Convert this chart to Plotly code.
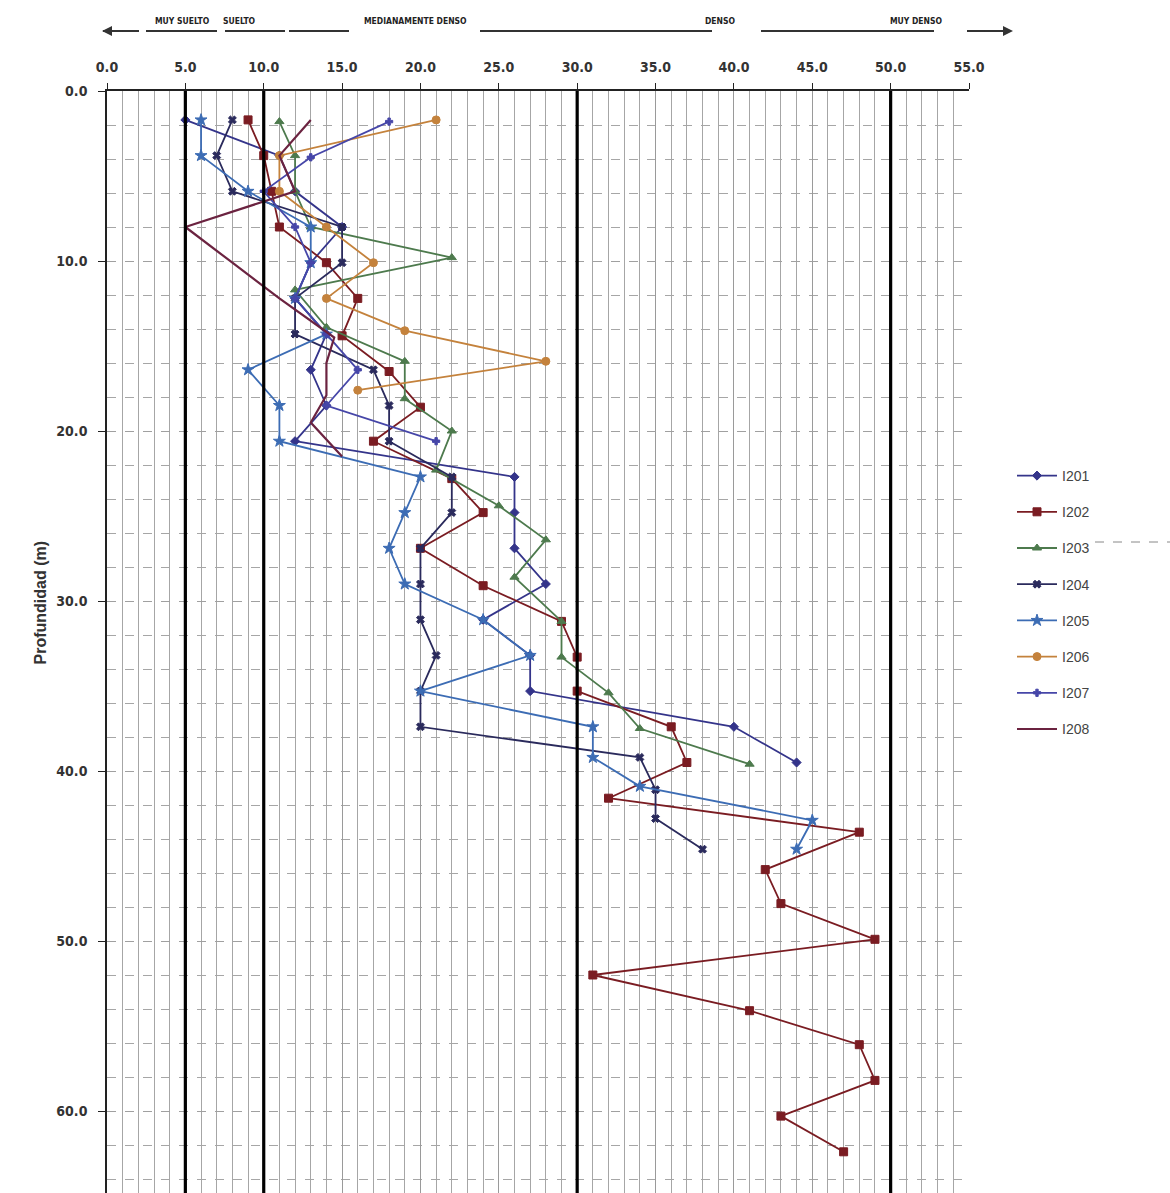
import plotly.graph_objects as go

# ---------------- data ----------------
D201 = [1.7, 3.8, 5.9, 8.0, 10.1, 12.2, 14.3, 16.4, 18.5, 20.6, 22.7, 24.8, 26.9, 29.0, 31.1, 33.2, 35.3, 37.4, 39.5]
N201 = [5, 11, 12, 15, 13, 12, 14, 13, 14, 12, 26, 26, 26, 28, 24, 27, 27, 40, 44]

D202 = [1.7, 3.8, 5.9, 8.0, 10.1, 12.2, 14.4, 16.5, 18.6, 20.6, 22.8, 24.8, 26.9, 29.1, 31.2, 33.3, 35.3, 37.4, 39.5,
        41.6, 43.6, 45.8, 47.8, 49.9, 52.0, 54.1, 56.1, 58.2, 60.3, 62.4]
N202 = [9, 10, 10.5, 11, 14, 16, 15, 18, 20, 17, 22, 24, 20, 24, 29, 30, 30, 36, 37,
        32, 48, 42, 43, 49, 31, 41, 48, 49, 43, 47]

D203 = [1.8, 3.8, 5.9, 8.0, 9.8, 11.7, 13.9, 15.9, 18.1, 20.0, 22.3, 24.4, 26.4, 28.6, 31.2, 33.3, 35.4, 37.5, 39.6]
N203 = [11, 12, 12, 13, 22, 12, 14, 19, 19, 22, 21, 25, 28, 26, 29, 29, 32, 34, 41]

D204 = [1.7, 3.8, 5.9, 8.0, 10.1, 12.2, 14.3, 16.4, 18.5, 20.6, 22.7, 24.8, 26.9, 29.0, 31.1, 33.2, 35.3, 37.4,
        39.2, 41.1, 42.8, 44.6]
N204 = [8, 7, 8, 15, 15, 12, 12, 17, 18, 18, 22, 22, 20, 20, 20, 21, 20, 20, 34, 35, 35, 38]

D205 = [1.7, 3.8, 5.9, 8.0, 10.1, 12.2, 14.3, 16.4, 18.5, 20.6, 22.7, 24.8, 26.9, 29.0, 31.1, 33.2, 35.3, 37.4,
        39.2, 40.9, 42.9, 44.6]
N205 = [6, 6, 9, 13, 13, 12, 14, 9, 11, 11, 20, 19, 18, 19, 24, 27, 20, 31, 31, 34, 45, 44]

D206 = [1.7, 3.8, 5.9, 8.0, 10.1, 12.2, 14.1, 15.9, 17.6]
N206 = [21, 11, 11, 14, 17, 14, 19, 28, 16]

D207 = [1.8, 3.9, 5.9, 8.0, 10.1, 12.2, 14.3, 16.4, 18.5, 20.6]
N207 = [18, 13, 10, 12, 13, 12, 14, 16, 14, 21]

D208 = [1.7, 3.8, 5.9, 8.0, 10.1, 12.2, 14.5, 16.0, 17.9, 19.5, 21.5]
N208 = [13, 11, 12, 5, 8, 11, 14.5, 14, 14, 13, 15]

SERIES = ["I201", "I202", "I203", "I204", "I205", "I206", "I207", "I208"]
X_TICKS = [0, 5, 10, 15, 20, 25, 30, 35, 40, 45, 50, 55]
Y_TICKS = [0, 10, 20, 30, 40, 50, 60]
THRESHOLDS = [5, 10, 30, 50]
CATEGORIES = ["MUY SUELTO", "SUELTO", "MEDIANAMENTE DENSO", "DENSO", "MUY DENSO"]

# ---------------- styling ----------------
styles = [
    dict(color="#34348a", symbol="diamond", size=7),
    dict(color="#7a1c22", symbol="square", size=8),
    dict(color="#4d7a4d", symbol="triangle-up", size=8),
    dict(color="#2a2a5c", symbol="x", size=7),
    dict(color="#3c6cb4", symbol="star", size=9),
    dict(color="#c4823c", symbol="circle", size=8),
    dict(color="#4646a8", symbol="cross", size=6),
    dict(color="#6b2340", symbol=None, size=0),
]
data = [(N201, D201), (N202, D202), (N203, D203), (N204, D204),
        (N205, D205), (N206, D206), (N207, D207), (N208, D208)]

fig = go.Figure()
for name, (xs, ys), st in zip(SERIES, data, styles):
    if st["symbol"] is None:
        fig.add_trace(go.Scatter(x=xs, y=ys, mode="lines", name=name, legendgroup=name,
                                 line=dict(color=st["color"], width=2.2)))
    else:
        fig.add_trace(go.Scatter(x=xs, y=ys, mode="lines+markers", name=name, legendgroup=name,
                                 line=dict(color=st["color"], width=1.8),
                                 marker=dict(symbol=st["symbol"], size=st["size"], color=st["color"],
                                             line=dict(color=st["color"], width=1))))

L, R, T, B = 107, 201, 91, 0
W, H = 1170, 1193
PW, PH = W - L - R, H - T - B


def px(xp):
    return (xp - L) / PW


def py(yp):
    return (H - B - yp) / PH


shapes = []
for v in THRESHOLDS:
    shapes.append(dict(type="line", xref="x", yref="paper", x0=v, x1=v, y0=0, y1=1,
                       line=dict(color="black", width=3.2), layer="above"))

# arrows row above the chart
segs = [(103, 139), (146, 217), (225, 285), (289, 349), (480, 712), (761, 934), (967, 1010)]
for a, b in segs:
    shapes.append(dict(type="line", xref="paper", yref="paper", x0=px(a), x1=px(b),
                       y0=py(31), y1=py(31), line=dict(color="#333", width=2)))
# small dashed line near legend
shapes.append(dict(type="line", xref="paper", yref="paper", x0=px(1095), x1=px(1170),
                   y0=py(542), y1=py(542), line=dict(color="#888", width=1, dash="dash")))

annotations = []
cat_x = [153, 221, 415, 737, 945]
for txt, cx in zip(CATEGORIES, cat_x):
    annotations.append(dict(text=txt, x=px(cx), y=py(14), xref="paper", yref="paper", showarrow=False,
                            font=dict(family="DejaVu Sans Condensed, Liberation Sans Narrow, sans-serif", size=8.5,
                                      color="#222", weight="bold")))
annotations.append(dict(x=px(102), y=py(31), xref="paper", yref="paper", ax=22, ay=0, text="",
                        showarrow=True, arrowhead=2, arrowsize=1, arrowwidth=2, arrowcolor="#333"))
annotations.append(dict(x=px(1013), y=py(31), xref="paper", yref="paper", ax=-30, ay=0, text="",
                        showarrow=True, arrowhead=2, arrowsize=1, arrowwidth=2, arrowcolor="#333"))
annotations.append(dict(text="Profundidad (m)", x=px(29), y=py(603), xref="paper", yref="paper",
                        showarrow=False, textangle=-90,
                        font=dict(family="Liberation Sans, Arial, sans-serif", size=16, color="#333",
                                  weight="bold")))

tickfont = dict(family="DejaVu Sans Condensed, Liberation Sans Narrow, sans-serif", size=14, color="#333",
                weight="bold")

fig.update_layout(
    width=W, height=H,
    margin=dict(l=L, r=R, t=T, b=B),
    paper_bgcolor="white", plot_bgcolor="white",
    shapes=shapes, annotations=annotations,
    legend=dict(x=px(1012), y=py(460), xanchor="left", yanchor="top", tracegroupgap=15,
                font=dict(family="Liberation Sans Narrow, Arial Narrow, sans-serif", size=14, color="#444"),
                bgcolor="rgba(0,0,0,0)", itemwidth=40),
    xaxis=dict(side="top", range=[0, 55], tickvals=X_TICKS, tickformat=".1f",
               showgrid=True, gridcolor="#9a9a9a", gridwidth=1.2,
               minor=dict(dtick=1, showgrid=True, gridcolor="#a6a6a6", gridwidth=1.2),
               ticks="outside", ticklen=6, tickcolor="#222", tickwidth=1.3,
               ticklabelstandoff=6,
               showline=True, linecolor="#222", linewidth=1.6, zeroline=False, tickfont=tickfont),
    yaxis=dict(range=[(H - T) / 17.0, 0], tickvals=Y_TICKS, tickformat=".1f",
               showgrid=True, gridcolor="#a0a0a0", gridwidth=1.2, griddash="dash",
               minor=dict(dtick=2, showgrid=True, gridcolor="#a6a6a6", gridwidth=1.2, griddash="dash"),
               ticks="outside", ticklen=7, tickcolor="#222", tickwidth=1.3, ticklabelstandoff=8,
               showline=True, linecolor="#222", linewidth=1.6, zeroline=False, tickfont=tickfont),
)

fig.write_html("out.html")
